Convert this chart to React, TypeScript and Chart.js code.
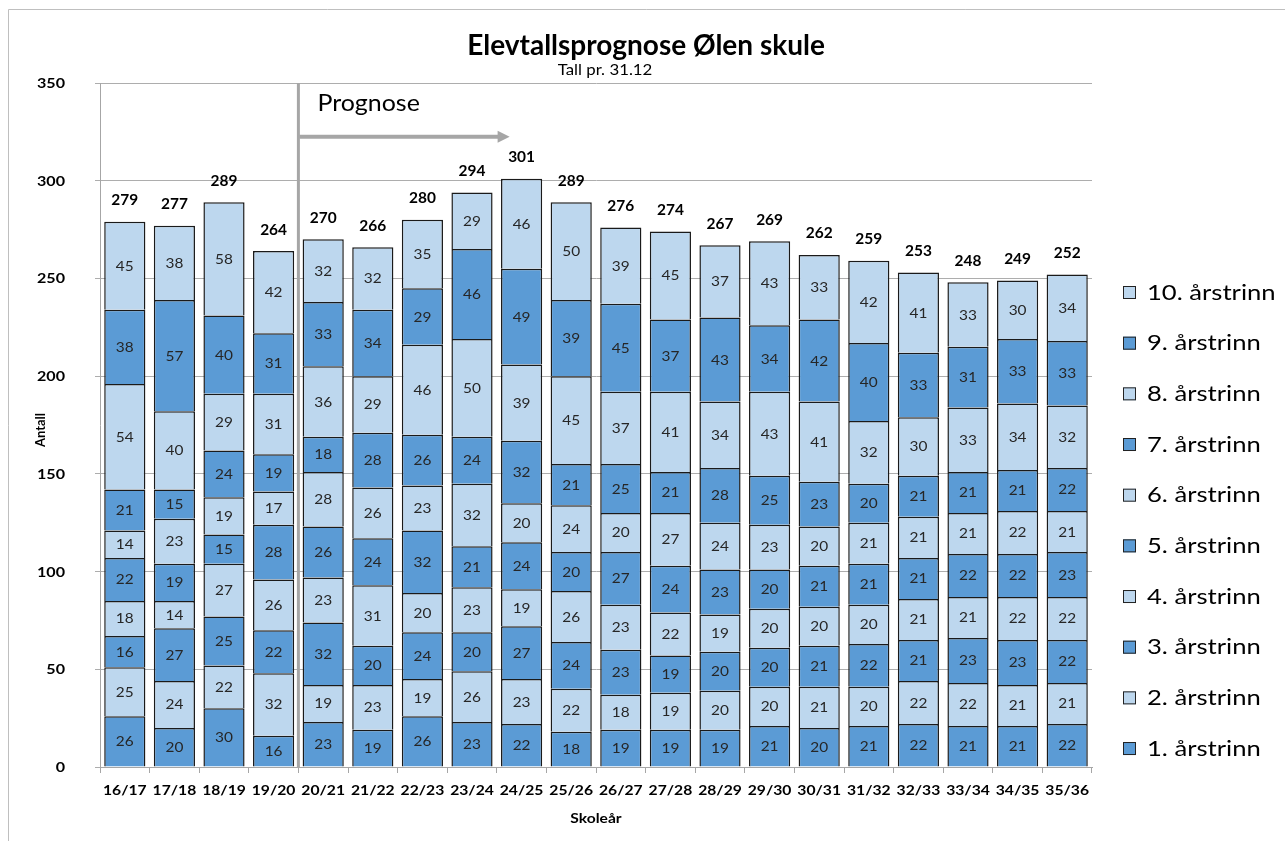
import React, { useEffect, useRef } from 'react';
import { Chart, registerables } from 'chart.js';

Chart.register(...registerables);

const categories = ['16/17', '17/18', '18/19', '19/20', '20/21', '21/22', '22/23', '23/24', '24/25', '25/26', '26/27', '27/28', '28/29', '29/30', '30/31', '31/32', '32/33', '33/34', '34/35', '35/36'];

const trinn1 = [26, 20, 30, 16, 23, 19, 26, 23, 22, 18, 19, 19, 19, 21, 20, 21, 22, 21, 21, 22];
const trinn2 = [25, 24, 22, 32, 19, 23, 19, 26, 23, 22, 18, 19, 20, 20, 21, 20, 22, 22, 21, 21];
const trinn3 = [16, 27, 25, 22, 32, 20, 24, 20, 27, 24, 23, 19, 20, 20, 21, 22, 21, 23, 23, 22];
const trinn4 = [18, 14, 27, 26, 23, 31, 20, 23, 19, 26, 23, 22, 19, 20, 20, 20, 21, 21, 22, 22];
const trinn5 = [22, 19, 15, 28, 26, 24, 32, 21, 24, 20, 27, 24, 23, 20, 21, 21, 21, 22, 22, 23];
const trinn6 = [14, 23, 19, 17, 28, 26, 23, 32, 20, 24, 20, 27, 24, 23, 20, 21, 21, 21, 22, 21];
const trinn7 = [21, 15, 24, 19, 18, 28, 26, 24, 32, 21, 25, 21, 28, 25, 23, 20, 21, 21, 21, 22];
const trinn8 = [54, 40, 29, 31, 36, 29, 46, 50, 39, 45, 37, 41, 34, 43, 41, 32, 30, 33, 34, 32];
const trinn9 = [38, 57, 40, 31, 33, 34, 29, 46, 49, 39, 45, 37, 43, 34, 42, 40, 33, 31, 33, 33];
const trinn10 = [45, 38, 58, 42, 32, 32, 35, 29, 46, 50, 39, 45, 37, 43, 33, 42, 41, 33, 30, 34];

const seriesNames = ['1. årstrinn', '2. årstrinn', '3. årstrinn', '4. årstrinn', '5. årstrinn', '6. årstrinn', '7. årstrinn', '8. årstrinn', '9. årstrinn', '10. årstrinn'];
const seriesValues = [trinn1, trinn2, trinn3, trinn4, trinn5, trinn6, trinn7, trinn8, trinn9, trinn10];

const yTickValues = [0, 50, 100, 150, 200, 250, 300, 350];
const titleText = 'Elevtallsprognose Ølen skule';
const subtitleText = 'Tall pr. 31.12';
const yAxisTitle = 'Antall';
const xAxisTitle = 'Skoleår';
const prognoseText = 'Prognose';
const yMin = 0;
const yMax = 350;
const yStep = 50;

const DARK = '#5B9BD5';
const LIGHT = '#BDD7EE';
const FONT = 'Lato, "Open Sans", sans-serif';

function txt(ctx: any, s: string, x: number, y: number, font: string, sx: number, align: string, color = '#000') {
  ctx.save();
  ctx.font = font;
  ctx.fillStyle = color;
  ctx.textAlign = align;
  ctx.textBaseline = 'alphabetic';
  ctx.translate(x, y);
  ctx.scale(sx, 1);
  ctx.fillText(s, 0, 0);
  ctx.restore();
}

const overlayPlugin = {
  id: 'overlay',
  afterDatasetsDraw(chart: any) {
    const ctx = chart.ctx;
    const xs = chart.scales.x;
    const ys = chart.scales.y;
    chart.data.datasets.forEach((ds: any, di: number) => {
      const meta = chart.getDatasetMeta(di);
      meta.data.forEach((el: any, i: number) => {
        const p = el.getProps(['x', 'y', 'base'], true);
        txt(ctx, String(ds.data[i]), p.x, (p.y + p.base) / 2 + 5, `14px ${FONT}`, 1.1, 'center', '#262626');
      });
    });
    categories.forEach((c, i) => {
      let t = 0;
      seriesValues.forEach((s) => (t += s[i]));
      txt(ctx, String(t), xs.getPixelForValue(i), ys.getPixelForValue(t) - 16.5, `bold 15px ${FONT}`, 1.03, 'center');
    });
  },
  afterDraw(chart: any) {
    const ctx = chart.ctx;
    const xs = chart.scales.x;
    const ys = chart.scales.y;
    const area = chart.chartArea;
    ctx.save();
    // outer border
    ctx.strokeStyle = '#BFBFBF';
    ctx.lineWidth = 1;
    ctx.beginPath();
    ctx.moveTo(8.5, 841);
    ctx.lineTo(8.5, 9.5);
    ctx.lineTo(1285, 9.5);
    ctx.stroke();

    // prognose line
    const bx = (xs.getPixelForValue(3) + xs.getPixelForValue(4)) / 2;
    ctx.strokeStyle = '#A6A6A6';
    ctx.lineWidth = 3;
    ctx.beginPath();
    ctx.moveTo(bx, area.top);
    ctx.lineTo(bx, area.bottom + 1);
    ctx.stroke();

    // arrow
    const ay = ys.getPixelForValue(322.5);
    const tip = xs.getPixelForValue(8) - 12;
    ctx.lineWidth = 4;
    ctx.beginPath();
    ctx.moveTo(bx + 1, ay);
    ctx.lineTo(tip - 10, ay);
    ctx.stroke();
    ctx.fillStyle = '#A6A6A6';
    ctx.beginPath();
    ctx.moveTo(tip, ay);
    ctx.lineTo(tip - 12, ay - 6);
    ctx.lineTo(tip - 12, ay + 6);
    ctx.closePath();
    ctx.fill();
    ctx.restore();

    // Prognose text
    txt(ctx, prognoseText, bx + 19, ys.getPixelForValue(335.5), `24px ${FONT}`, 1.04, 'left');

    // title
    txt(ctx, titleText, 646, 55, `bold 28px ${FONT}`, 1.0, 'center');
    txt(ctx, subtitleText, 605, 75, `15px ${FONT}`, 1.12, 'center');

    // y ticks
    yTickValues.forEach((v) => {
      txt(ctx, String(v), 65, ys.getPixelForValue(v) + 5, `bold 14px ${FONT}`, 1.15, 'right');
    });
    // x ticks
    categories.forEach((c, i) => {
      txt(ctx, c, xs.getPixelForValue(i), 795, `bold 14px ${FONT}`, 1.12, 'center');
    });
    // axis titles
    txt(ctx, xAxisTitle, (area.left + area.right) / 2, 823, `bold 13px ${FONT}`, 1.2, 'center');
    ctx.save();
    ctx.translate(45, (area.top + area.bottom) / 2 + 5);
    ctx.rotate(-Math.PI / 2);
    txt(ctx, yAxisTitle, 0, 0, `bold 13px ${FONT}`, 1.0, 'center');
    ctx.restore();

    // legend (reversed)
    ctx.save();
    for (let k = 0; k < seriesNames.length; k++) {
      const idx = seriesNames.length - 1 - k;
      const cy = 292.5 + k * 50.67;
      ctx.fillStyle = idx % 2 === 0 ? DARK : LIGHT;
      ctx.fillRect(1123, cy - 6.5, 13, 13);
      ctx.strokeStyle = '#222';
      ctx.lineWidth = 1;
      ctx.strokeRect(1123.5, cy - 6, 12, 12);
      txt(ctx, seriesNames[idx], 1147, cy + 7, `21px ${FONT}`, 1.22, 'left');
    }
    ctx.restore();
  },
};

export default function App() {
  const ref = useRef<HTMLCanvasElement>(null);
  useEffect(() => {
    if (!ref.current) return;
    Chart.defaults.font.family = FONT;
    const chart = new Chart(ref.current, {
      type: 'bar',
      data: {
        labels: categories,
        datasets: seriesNames.map((name, i) => ({
          label: name,
          data: seriesValues[i],
          backgroundColor: i % 2 === 0 ? DARK : LIGHT,
          borderColor: '#1a1a1a',
          borderWidth: 1.5,
          barPercentage: 0.83,
          categoryPercentage: 1,
        })),
      },
      options: {
        responsive: false,
        animation: false,
        layout: { padding: { left: 30, right: 193, top: 83, bottom: 0 } },
        plugins: { legend: { display: false }, tooltip: { enabled: false }, title: { display: false } },
        scales: {
          x: {
            stacked: true,
            grid: { display: true, drawOnChartArea: false, offset: true, tickLength: 6, color: '#A6A6A6' },
            border: { color: '#A6A6A6' },
            ticks: { display: false, autoSkip: false },
            title: { display: false },
            afterFit: (s: any) => { s.height = 74; },
          },
          y: {
            stacked: true,
            min: yMin,
            max: yMax,
            grid: { color: '#ADADAD', tickLength: 5 },
            border: { color: '#A6A6A6' },
            ticks: { display: false, stepSize: yStep },
            title: { display: false },
            afterFit: (s: any) => { s.width = 70; },
          },
        },
      },
      plugins: [overlayPlugin],
    });
    return () => chart.destroy();
  }, []);
  return (
    <div style={{ position: 'absolute', left: 0, top: 0, width: 1285, height: 841, background: '#fff' }}>
      <canvas ref={ref} width={1285} height={841} />
    </div>
  );
}
